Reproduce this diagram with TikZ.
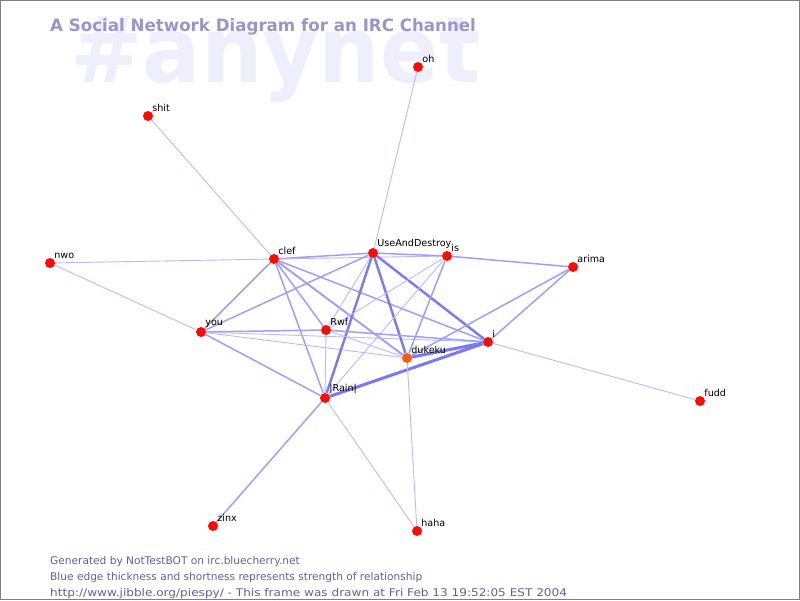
\documentclass[tikz,border=0pt]{standalone}
\usepackage{fontspec}
\setmainfont{DejaVu Sans}
\usetikzlibrary{backgrounds}

\definecolor{nodered}{RGB}{255,10,0}
\definecolor{nodeorange}{RGB}{255,90,10}
\definecolor{edgelight}{RGB}{185,185,255}
\definecolor{edgemid}{RGB}{158,158,255}
\definecolor{edgedark}{RGB}{120,120,250}
\definecolor{titleblue}{RGB}{150,150,205}
\definecolor{markbg}{RGB}{238,238,252}
\definecolor{footblue}{RGB}{95,95,160}

\begin{document}
\begin{tikzpicture}[x=1pt, y=-1pt,
    user/.style={circle, fill=nodered, minimum size=10pt, inner sep=0pt},
    nick/.style={font=\fontsize{9.6}{10}\selectfont, inner sep=0.5pt, label distance=0pt},
    weak/.style={draw=edgelight, line width=0.9pt},
    medium/.style={draw=edgemid, line width=1.5pt},
    strong/.style={draw=edgedark, line width=2.4pt},
    tight/.style={draw=edgedark, line width=3pt},
    foot/.style={anchor=base west, inner sep=0pt, text=footblue, font=\fontsize{10.6}{11}\selectfont}]
    \useasboundingbox (0,0) rectangle (800,600);
    \draw[gray, line width=1pt] (0.5,0.5) rectangle (799.5,599.5);

    \node[user, label={[nick]above right:oh}] (oh) at (418,67) {};
    \node[user, label={[nick]above right:shit}] (shit) at (148,116) {};
    \node[user, label={[nick]above right:nwo}] (nwo) at (50,263) {};
    \node[user, label={[nick]above right:clef}] (clef) at (274,259) {};
    \node[user, label={[nick]above right:UseAndDestroy}] (uad) at (373,253) {};
    \node[user, label={[nick]above right:is}] (is) at (447,256) {};
    \node[user, label={[nick]above right:arima}] (arima) at (573,267) {};
    \node[user, label={[nick]above right:you}] (you) at (201,332) {};
    \node[user, label={[nick]above right:Rwf}] (rwf) at (326,330) {};
    \node[user, label={[nick]above right:i}] (i) at (488,342) {};
    \node[user, fill=nodeorange, label={[nick]above right:dukeku}] (dukeku) at (407,358) {};
    \node[user, label={[nick]above right:{|Rain|}}] (rain) at (325,398) {};
    \node[user, label={[nick]above right:fudd}] (fudd) at (700,401) {};
    \node[user, label={[nick]above right:zinx}] (zinx) at (213,526) {};
    \node[user, label={[nick]above right:haha}] (haha) at (417,531) {};

    % 線を引く
    \begin{scope}[on background layer]
    \node[anchor=base west, inner sep=0pt, text=markbg, xscale=0.94, transform shape,
          font=\fontsize{92}{92}\selectfont\bfseries] (channel) at (70,82) {\#anynet};
    \draw[weak] (oh) -- (uad);
    \draw[weak] (shit) -- (clef);
    \draw[weak] (nwo) -- (clef);
    \draw[weak] (nwo) -- (you);
    \draw[medium] (clef) -- (uad);
    \draw[weak] (clef) -- (is);
    \draw[medium] (uad) -- (is);
    \draw[medium] (is) -- (arima);
    \draw[medium] (clef) -- (you);
    \draw[medium] (clef) -- (rwf);
    \draw[medium] (clef) -- (rain);
    \draw[medium, line width=1.9pt] (clef) -- (dukeku);
    \draw[medium] (clef) -- (i);
    \draw[medium] (you) -- (uad);
    \draw[medium] (you) -- (rwf);
    \draw[weak] (you) -- (i);
    \draw[weak] (you) -- (dukeku);
    \draw[medium] (you) -- (rain);
    \draw[weak] (uad) -- (rwf);
    \draw[strong] (uad) -- (rain);
    \draw[strong] (uad) -- (dukeku);
    \draw[strong] (uad) -- (i);
    \draw[medium] (is) -- (dukeku);
    \draw[weak] (is) -- (rain);
    \draw[weak] (is) -- (rwf);
    \draw[weak] (rwf) -- (rain);
    \draw[medium] (rwf) -- (i);
    \draw[weak] (rwf) -- (dukeku);
    \draw[tight] (dukeku) -- (i);
    \draw[tight] (rain) -- (i);
    \draw[medium] (arima) -- (i);
    \draw[medium] (arima) -- (dukeku);
    \draw[weak] (i) -- (fudd);
    \draw[weak] (dukeku) -- (haha);
    \draw[weak] (rain) -- (haha);
    \draw[medium] (rain) -- (zinx);
    \end{scope}

    % 文字を入れる
    \node[anchor=base west, inner sep=0pt, text=titleblue, xscale=0.98, transform shape,
          font=\fontsize{17}{17}\selectfont\bfseries] (title) at (50,31) {A Social Network Diagram for an IRC Channel};
    \node[foot] (gen) at (50,564) {Generated by NotTestBOT on irc.bluecherry.net};
    \node[foot] (legend) at (50,580) {Blue edge thickness and shortness represents strength of relationship};
    \node[foot, xscale=1.14, transform shape] (frame) at (50,596) {http://www.jibble.org/piespy/ - This frame was drawn at Fri Feb 13 19:52:05 EST 2004};
\end{tikzpicture}
\end{document}
